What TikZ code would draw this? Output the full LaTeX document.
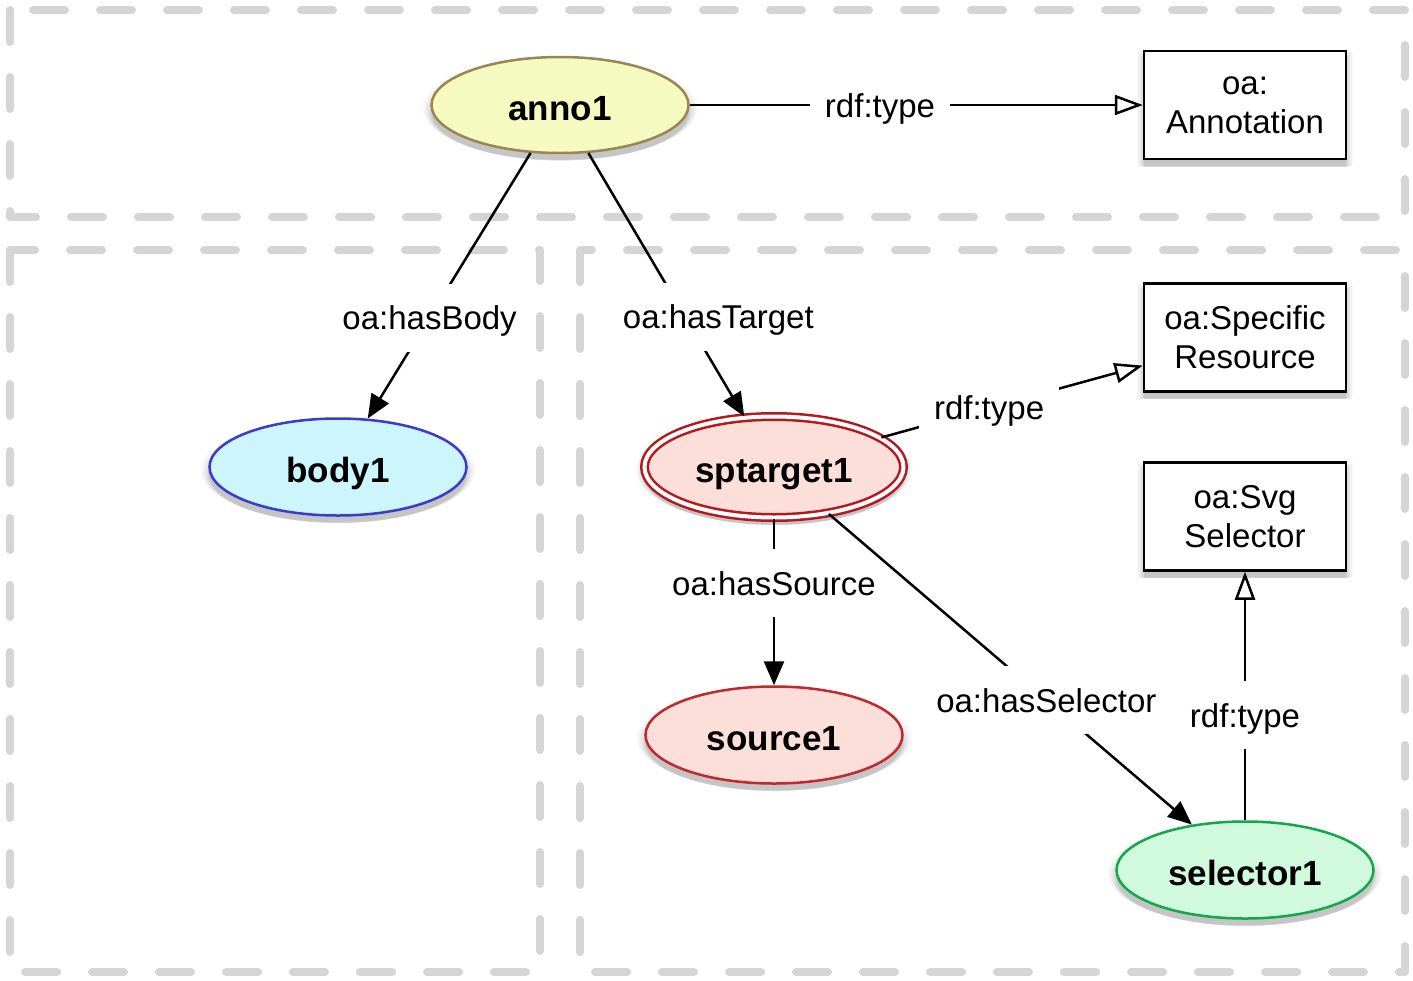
\documentclass[tikz,border=0pt]{standalone}
\usepackage{fontspec}
\setmainfont{Liberation Sans}
\usetikzlibrary{shapes.geometric, arrows.meta, shadows}
\definecolor{zonegray}{HTML}{D5D5D5}
\definecolor{annofill}{HTML}{F5FAC0}
\definecolor{annodraw}{HTML}{9D8455}
\definecolor{bodyfill}{HTML}{CCF5FE}
\definecolor{bodydraw}{HTML}{3A3ACB}
\definecolor{spfill}{HTML}{FDDFDA}
\definecolor{spdraw}{HTML}{B5171C}
\definecolor{srcdraw}{HTML}{C1272D}
\definecolor{selfill}{HTML}{D1F9DD}
\definecolor{seldraw}{HTML}{10A84A}
\begin{document}
\begin{tikzpicture}[x=1pt, y=-1pt,
  zone/.style={draw=zonegray, line width=8pt, dash pattern=on 32pt off 35pt, line cap=round, line join=round},
  softshadow/.style={
    general shadow={fill=black, opacity=0.025, shadow yshift=-3pt, shadow scale=1.07},
    general shadow={fill=black, opacity=0.03, shadow yshift=-4pt, shadow scale=1.055},
    general shadow={fill=black, opacity=0.035, shadow yshift=-5pt, shadow scale=1.04},
    general shadow={fill=black, opacity=0.04, shadow yshift=-6pt, shadow scale=1.025},
    general shadow={fill=black, opacity=0.05, shadow yshift=-7pt, shadow scale=1.012},
    general shadow={fill=black, opacity=0.06, shadow yshift=-7.5pt, shadow scale=1.0}},
  ell/.style={ellipse, line width=2.5pt, inner sep=0pt, minimum width=257pt, minimum height=97pt,
    text height=31pt, text depth=0pt,
    font=\fontsize{35}{40}\selectfont\bfseries, softshadow},
  cls/.style={rectangle, draw=black, fill=white, line width=2.5pt, inner sep=0pt,
    minimum width=202pt, minimum height=108pt, align=center,
    font=\fontsize{33}{39}\selectfont, softshadow},
  edge/.style={draw=black, line width=2.5pt},
  rel/.style={edge, -{Triangle[length=24pt, width=20pt]}},
  typ/.style={edge, -{Triangle[open, length=28pt, width=20pt]}},
  lbl/.style={fill=white, inner xsep=15pt, inner ysep=17pt, text height=29pt, text depth=5pt,
    font=\fontsize{33}{38}\selectfont}
]
\useasboundingbox (0,0) rectangle (1413,980);
\fill[white] (0,0) rectangle (1413,980);

% zones
\draw[zone] (10,10) rectangle (1405,217);
\draw[zone] (10,250) rectangle (540,972);
\draw[zone] (580,250) rectangle (1405,972);

% nodes
\node[ell, fill=annofill, draw=annodraw, minimum height=96pt] (anno1) at (560,105) {anno1};
\node[ell, fill=bodyfill, draw=bodydraw] (body1) at (338,467) {body1};
\node[ell, fill=spfill, draw=spdraw, double=white, double distance=4pt,
      minimum width=259pt, minimum height=101pt] (sptarget1) at (774,467) {sptarget1};
\node[ell, fill=spfill, draw=srcdraw] (source1) at (774,735) {source1};
\node[ell, fill=selfill, draw=seldraw] (selector1) at (1245,870) {selector1};

\node[cls] (annotation) at (1245,105) {oa:\\Annotation};
\node[cls] (specres) at (1245,337.5) {oa:Specific\\Resource};
\node[cls] (svgsel) at (1245,516.5) {oa:Svg\\Selector};

% connectors
\draw[typ] (anno1) -- node[lbl, pos=0.42] {rdf:type} (annotation);
\draw[rel] (anno1) -- node[lbl, pos=0.62] {oa:hasBody} (body1);
\draw[rel] (anno1) -- node[lbl, pos=0.622, xshift=33pt] {oa:hasTarget} (sptarget1);
\draw[typ] (sptarget1) -- node[lbl, pos=0.412] {rdf:type} (specres);
\draw[rel] (sptarget1) -- node[lbl, pos=0.387] {oa:hasSource} (source1);
\draw[rel] (sptarget1) -- node[lbl, pos=0.599] {oa:hasSelector} (selector1);
\draw[typ] (selector1) -- node[lbl, pos=0.423] {rdf:type} (svgsel);
\end{tikzpicture}
\end{document}
